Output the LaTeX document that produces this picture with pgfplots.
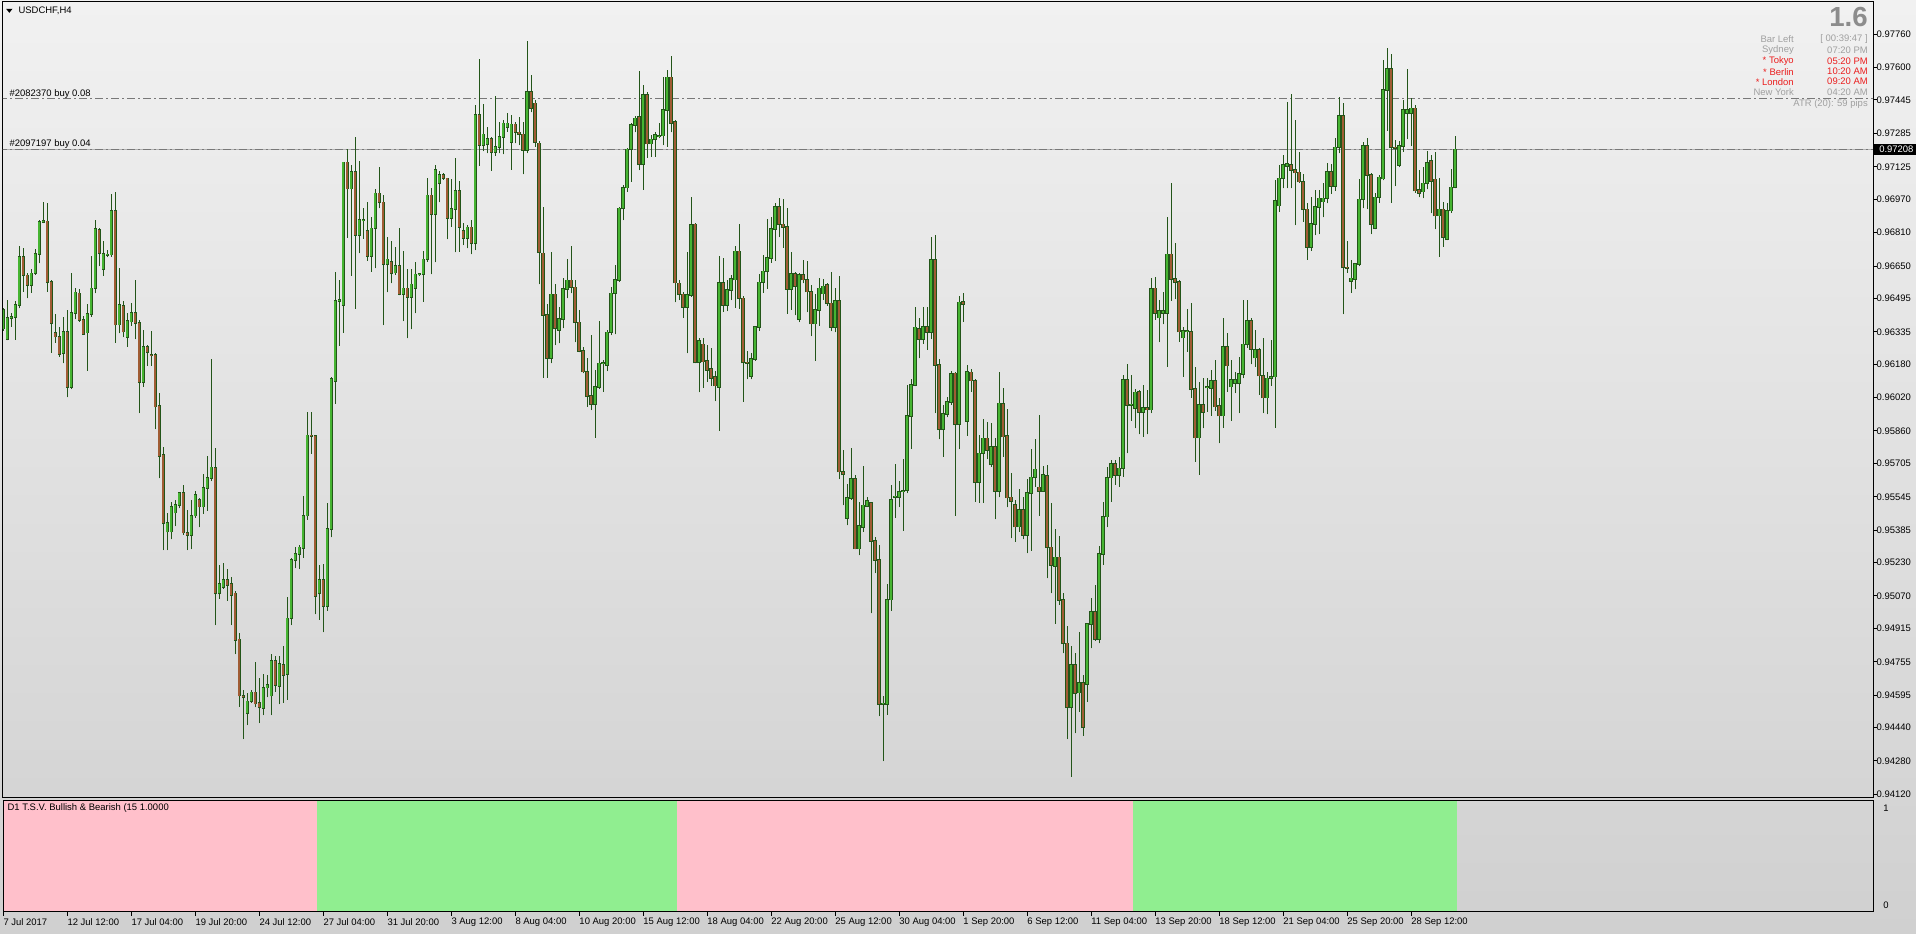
\documentclass[border=0pt]{standalone}
\usepackage{fontspec}
\setmainfont{Liberation Sans}
\usepackage{pgfplots}
\usepackage{pgfplotstable}
\pgfplotsset{compat=1.18}

\definecolor{bullc}{RGB}{70,180,50}
\definecolor{bearc}{RGB}{160,92,52}
\definecolor{edgec}{RGB}{35,85,25}
\definecolor{bgtop}{RGB}{241,241,241}
\definecolor{bgbot}{RGB}{208,208,208}
\definecolor{pinkc}{RGB}{255,192,203}
\definecolor{lgreen}{RGB}{144,238,144}
\definecolor{infogray}{RGB}{160,160,160}
\definecolor{infored}{RGB}{235,30,30}
\definecolor{ordline}{RGB}{120,120,120}
\newcommand\tk{\fontsize{7.1pt}{8.5pt}\selectfont}
\pgfplotsset{nomark/.style={only marks, mark=*, mark size=0pt, mark options={draw=none, fill=none}}}

% H4 bars: i open high low close
\pgfplotstableread{
i O H L C
0 0.96350 0.96450 0.96340 0.96440
1 0.96299 0.96487 0.96295 0.96400
2 0.96400 0.96427 0.96360 0.96405
3 0.96404 0.96484 0.96296 0.96463
4 0.96463 0.96746 0.96447 0.96692
5 0.96692 0.96735 0.96527 0.96605
6 0.96605 0.96615 0.96495 0.96558
7 0.96558 0.96634 0.96522 0.96615
8 0.96615 0.96730 0.96607 0.96708
9 0.96708 0.96870 0.96663 0.96861
10 0.96860 0.96957 0.96855 0.96865
11 0.96864 0.96950 0.96527 0.96572
12 0.96575 0.96583 0.96235 0.96376
13 0.96328 0.96420 0.96283 0.96312
14 0.96312 0.96360 0.96216 0.96227
15 0.96232 0.96408 0.96184 0.96333
16 0.96333 0.96439 0.96021 0.96072
17 0.96072 0.96615 0.96060 0.96424
18 0.96424 0.96543 0.96395 0.96524
19 0.96519 0.96538 0.96384 0.96392
20 0.96392 0.96411 0.96320 0.96325
21 0.96331 0.96468 0.96149 0.96419
22 0.96419 0.96698 0.96408 0.96543
23 0.96543 0.96870 0.96519 0.96826
24 0.96823 0.96831 0.96650 0.96711
25 0.96634 0.96770 0.96604 0.96708
26 0.96704 0.96727 0.96692 0.96706
27 0.96705 0.96995 0.96695 0.96914
28 0.96914 0.97005 0.96283 0.96369
29 0.96369 0.96639 0.96328 0.96463
30 0.96459 0.96484 0.96309 0.96336
31 0.96309 0.96424 0.96264 0.96387
32 0.96384 0.96471 0.96364 0.96424
33 0.96424 0.96583 0.96299 0.96376
34 0.96376 0.96392 0.95945 0.96093
35 0.96093 0.96344 0.96072 0.96264
36 0.96264 0.96272 0.96173 0.96237
37 0.96226 0.96339 0.96173 0.96224
38 0.96224 0.96232 0.95868 0.95977
39 0.95980 0.96040 0.95633 0.95740
40 0.95745 0.95785 0.95290 0.95418
41 0.95378 0.95466 0.95290 0.95418
42 0.95378 0.95522 0.95341 0.95498
43 0.95469 0.95530 0.95405 0.95506
44 0.95506 0.95570 0.95490 0.95562
45 0.95562 0.95601 0.95362 0.95373
46 0.95373 0.95483 0.95290 0.95360
47 0.95360 0.95531 0.95294 0.95455
48 0.95455 0.95574 0.95445 0.95555
49 0.95531 0.95540 0.95398 0.95498
50 0.95498 0.95654 0.95464 0.95587
51 0.95587 0.95739 0.95479 0.95635
52 0.95635 0.96203 0.95620 0.95686
53 0.95682 0.95777 0.94930 0.95082
54 0.95082 0.95218 0.95057 0.95127
55 0.95114 0.95228 0.95105 0.95146
56 0.95146 0.95199 0.95048 0.95123
57 0.95127 0.95161 0.94930 0.95076
58 0.95082 0.95095 0.94792 0.94858
59 0.94862 0.94892 0.94540 0.94593
60 0.94593 0.94622 0.94385 0.94584
61 0.94508 0.94603 0.94451 0.94565
62 0.94565 0.94622 0.94559 0.94608
63 0.94608 0.94754 0.94536 0.94555
64 0.94559 0.94679 0.94461 0.94536
65 0.94533 0.94697 0.94499 0.94631
66 0.94631 0.94692 0.94584 0.94646
67 0.94593 0.94792 0.94499 0.94758
68 0.94758 0.94783 0.94612 0.94644
69 0.94640 0.94783 0.94552 0.94745
70 0.94741 0.94830 0.94559 0.94692
71 0.94697 0.95063 0.94574 0.94963
72 0.94963 0.95252 0.94930 0.95241
73 0.95241 0.95303 0.95203 0.95271
74 0.95271 0.95313 0.95199 0.95303
75 0.95298 0.95549 0.95252 0.95455
76 0.95455 0.95951 0.95436 0.95839
77 0.95839 0.95951 0.95752 0.95837
78 0.95837 0.95843 0.94982 0.95070
79 0.95082 0.95218 0.94957 0.95146
80 0.95146 0.95222 0.94896 0.95020
81 0.95020 0.95517 0.95000 0.95392
82 0.95392 0.96118 0.95351 0.96108
83 0.96099 0.96619 0.95991 0.96483
84 0.96483 0.96585 0.96269 0.96487
85 0.96464 0.97150 0.96331 0.97146
86 0.97146 0.97210 0.96786 0.97021
87 0.97021 0.97134 0.96604 0.97102
88 0.97102 0.97267 0.96445 0.96799
89 0.96799 0.97153 0.96710 0.96869
90 0.96869 0.96930 0.96780 0.96871
91 0.96820 0.96956 0.96676 0.96699
92 0.96699 0.96886 0.96623 0.96830
93 0.96830 0.97019 0.96639 0.96998
94 0.96998 0.97122 0.96926 0.96955
95 0.96955 0.96990 0.96367 0.96658
96 0.96658 0.96790 0.96524 0.96682
97 0.96671 0.96770 0.96567 0.96615
98 0.96618 0.96741 0.96607 0.96650
99 0.96650 0.96833 0.96511 0.96514
100 0.96514 0.96722 0.96386 0.96543
101 0.96543 0.96635 0.96303 0.96503
102 0.96503 0.96635 0.96347 0.96562
103 0.96543 0.96671 0.96423 0.96610
104 0.96610 0.96615 0.96604 0.96612
105 0.96610 0.96722 0.96479 0.96682
106 0.96682 0.97070 0.96671 0.96988
107 0.96988 0.97022 0.96610 0.96897
108 0.96897 0.97133 0.96667 0.97110
109 0.97046 0.97105 0.96955 0.97086
110 0.97086 0.97094 0.97062 0.97070
111 0.97070 0.97073 0.96778 0.96878
112 0.96878 0.97066 0.96838 0.96923
113 0.96923 0.97165 0.96715 0.97009
114 0.97009 0.97057 0.96719 0.96838
115 0.96817 0.96857 0.96750 0.96782
116 0.96782 0.96846 0.96734 0.96835
117 0.96835 0.96870 0.96706 0.96758
118 0.96758 0.97421 0.96726 0.97373
119 0.97373 0.97641 0.97130 0.97229
120 0.97229 0.97424 0.97200 0.97280
121 0.97232 0.97317 0.97189 0.97258
122 0.97258 0.97269 0.97105 0.97194
123 0.97194 0.97464 0.97178 0.97221
124 0.97221 0.97341 0.97189 0.97269
125 0.97269 0.97349 0.97185 0.97333
126 0.97317 0.97381 0.97293 0.97333
127 0.97242 0.97373 0.97110 0.97328
128 0.97328 0.97341 0.97237 0.97290
129 0.97290 0.97365 0.97229 0.97280
130 0.97280 0.97338 0.97089 0.97205
131 0.97205 0.97727 0.97190 0.97485
132 0.97485 0.97564 0.97386 0.97405
133 0.97429 0.97445 0.97221 0.97242
134 0.97237 0.97248 0.96562 0.96715
135 0.96710 0.96934 0.96115 0.96415
136 0.96415 0.96466 0.96115 0.96208
137 0.96208 0.96718 0.96184 0.96514
138 0.96514 0.96562 0.96271 0.96351
139 0.96343 0.96455 0.96280 0.96396
140 0.96396 0.96591 0.96351 0.96540
141 0.96540 0.96683 0.96495 0.96581
142 0.96581 0.96745 0.96519 0.96548
143 0.96548 0.96583 0.96284 0.96380
144 0.96380 0.96439 0.96236 0.96243
145 0.96243 0.96264 0.96136 0.96144
146 0.96144 0.96208 0.95976 0.96027
147 0.96027 0.96319 0.95960 0.95987
148 0.95987 0.96152 0.95828 0.96072
149 0.96072 0.96386 0.96061 0.96184
150 0.96184 0.96200 0.96048 0.96186
151 0.96176 0.96343 0.96147 0.96332
152 0.96332 0.96551 0.96319 0.96519
153 0.96519 0.96655 0.96323 0.96583
154 0.96583 0.96934 0.96575 0.96926
155 0.96926 0.97038 0.96870 0.97025
156 0.97025 0.97213 0.97006 0.97208
157 0.97208 0.97333 0.97054 0.97325
158 0.97325 0.97370 0.97290 0.97357
159 0.97365 0.97583 0.97109 0.97137
160 0.97137 0.97516 0.97014 0.97469
161 0.97469 0.97485 0.97168 0.97236
162 0.97236 0.97277 0.97173 0.97256
163 0.97256 0.97290 0.97173 0.97277
164 0.97273 0.97333 0.97261 0.97274
165 0.97274 0.97553 0.97229 0.97397
166 0.97397 0.97588 0.97221 0.97553
167 0.97553 0.97657 0.97290 0.97333
168 0.97341 0.97349 0.96476 0.96571
169 0.96567 0.96583 0.96487 0.96514
170 0.96514 0.96527 0.96402 0.96455
171 0.96455 0.96718 0.96232 0.96511
172 0.96511 0.96982 0.96503 0.96846
173 0.96849 0.96854 0.96184 0.96188
174 0.96188 0.96307 0.96045 0.96291
175 0.96275 0.96303 0.96067 0.96192
176 0.96195 0.96271 0.96096 0.96152
177 0.96157 0.96255 0.96077 0.96115
178 0.96120 0.96147 0.96003 0.96077
179 0.96072 0.96699 0.95860 0.96571
180 0.96571 0.96686 0.96431 0.96463
181 0.96463 0.96583 0.96434 0.96535
182 0.96535 0.96607 0.96487 0.96587
183 0.96585 0.96747 0.96449 0.96720
184 0.96720 0.96849 0.96446 0.96495
185 0.96495 0.96507 0.95999 0.96188
186 0.96188 0.96242 0.96107 0.96186
187 0.96122 0.96233 0.96107 0.96206
188 0.96206 0.96363 0.96197 0.96359
189 0.96359 0.96612 0.96341 0.96572
190 0.96572 0.96702 0.96522 0.96624
191 0.96624 0.96873 0.96540 0.96689
192 0.96689 0.96885 0.96666 0.96828
193 0.96828 0.96954 0.96675 0.96932
194 0.96932 0.96976 0.96788 0.96849
195 0.96849 0.96972 0.96738 0.96837
196 0.96837 0.96927 0.96422 0.96540
197 0.96540 0.96716 0.96440 0.96612
198 0.96612 0.96621 0.96414 0.96552
199 0.96395 0.96615 0.96381 0.96606
200 0.96606 0.96680 0.96567 0.96585
201 0.96585 0.96675 0.96428 0.96527
202 0.96527 0.96558 0.96314 0.96374
203 0.96374 0.96518 0.96197 0.96440
204 0.96440 0.96594 0.96363 0.96543
205 0.96518 0.96590 0.96489 0.96552
206 0.96558 0.96567 0.96459 0.96471
207 0.96471 0.96621 0.96338 0.96359
208 0.96359 0.96543 0.96332 0.96482
209 0.96482 0.96603 0.95630 0.95666
210 0.95666 0.95769 0.95504 0.95653
211 0.95444 0.95606 0.95408 0.95540
212 0.95540 0.95779 0.95531 0.95630
213 0.95630 0.95648 0.95293 0.95297
214 0.95297 0.95522 0.95264 0.95405
215 0.95401 0.95693 0.95378 0.95504
216 0.95502 0.95545 0.95495 0.95527
217 0.95516 0.95522 0.94987 0.95333
218 0.95333 0.95351 0.95179 0.95242
219 0.95242 0.95315 0.94495 0.94554
220 0.94554 0.94590 0.94279 0.94556
221 0.94554 0.95125 0.94500 0.95053
222 0.95053 0.95599 0.94999 0.95531
223 0.95545 0.95702 0.95444 0.95547
224 0.95545 0.95621 0.95495 0.95570
225 0.95572 0.95725 0.95383 0.95574
226 0.95576 0.96080 0.95563 0.95931
227 0.95931 0.96111 0.95774 0.96080
228 0.96080 0.96453 0.96075 0.96356
229 0.96350 0.96400 0.96208 0.96299
230 0.96299 0.96452 0.96277 0.96360
231 0.96360 0.96452 0.96248 0.96333
232 0.96333 0.96790 0.96300 0.96680
233 0.96680 0.96800 0.95945 0.96176
234 0.96176 0.96203 0.95820 0.95868
235 0.95868 0.95985 0.95737 0.95941
236 0.95941 0.96024 0.95925 0.96000
237 0.96000 0.96149 0.95985 0.96133
238 0.96136 0.96144 0.95455 0.95892
239 0.95892 0.96506 0.95772 0.96476
240 0.96479 0.96522 0.96384 0.96467
241 0.95909 0.96176 0.95838 0.96144
242 0.96141 0.96157 0.96048 0.96101
243 0.96101 0.96107 0.95522 0.95614
244 0.95614 0.95841 0.95517 0.95753
245 0.95753 0.95917 0.95517 0.95825
246 0.95825 0.95905 0.95724 0.95769
247 0.95700 0.95897 0.95689 0.95782
248 0.95782 0.95825 0.95437 0.95574
249 0.95574 0.96144 0.95542 0.95992
250 0.95989 0.96064 0.95737 0.95833
251 0.95836 0.95964 0.95494 0.95541
252 0.95542 0.95657 0.95346 0.95526
253 0.95506 0.95530 0.95330 0.95402
254 0.95402 0.95581 0.95378 0.95482
255 0.95482 0.95546 0.95341 0.95362
256 0.95362 0.95629 0.95274 0.95562
257 0.95562 0.95772 0.95287 0.95638
258 0.95638 0.95820 0.95593 0.95676
259 0.95590 0.95937 0.95453 0.95574
260 0.95574 0.95692 0.95570 0.95649
261 0.95645 0.95697 0.95154 0.95303
262 0.95303 0.95514 0.95083 0.95218
263 0.95214 0.95389 0.94936 0.95255
264 0.95255 0.95357 0.95027 0.95051
265 0.95051 0.95086 0.94795 0.94843
266 0.94843 0.94926 0.94384 0.94537
267 0.94537 0.94830 0.94205 0.94739
268 0.94739 0.94795 0.94412 0.94604
269 0.94607 0.94899 0.94516 0.94655
270 0.94655 0.94692 0.94400 0.94441
271 0.94649 0.94939 0.94564 0.94936
272 0.94936 0.95059 0.94819 0.94995
273 0.94995 0.95123 0.94856 0.94862
274 0.94862 0.95309 0.94843 0.95271
275 0.95271 0.95520 0.95220 0.95450
276 0.95450 0.95689 0.95400 0.95637
277 0.95637 0.95720 0.95520 0.95701
278 0.95701 0.95721 0.95602 0.95649
279 0.95649 0.95737 0.95594 0.95681
280 0.95681 0.96128 0.95641 0.96104
281 0.96104 0.96179 0.95753 0.95985
282 0.95985 0.96128 0.95908 0.95987
283 0.95969 0.96061 0.95873 0.96045
284 0.96049 0.96057 0.95844 0.95949
285 0.95949 0.96080 0.95833 0.95969
286 0.95969 0.96057 0.95844 0.95962
287 0.95962 0.96591 0.95945 0.96540
288 0.96543 0.96599 0.96392 0.96424
289 0.96403 0.96488 0.96285 0.96435
290 0.96424 0.96527 0.96371 0.96435
291 0.96424 0.96887 0.96168 0.96706
292 0.96706 0.97046 0.96483 0.96587
293 0.96587 0.96759 0.96492 0.96572
294 0.96575 0.96583 0.96288 0.96336
295 0.96307 0.96360 0.96120 0.96339
296 0.96336 0.96444 0.96240 0.96338
297 0.96336 0.96472 0.96020 0.96060
298 0.96060 0.96168 0.95713 0.95828
299 0.95828 0.96093 0.95650 0.95985
300 0.95985 0.96112 0.95873 0.95949
301 0.96068 0.96112 0.95953 0.96070
302 0.96064 0.96152 0.95934 0.96100
303 0.96100 0.96200 0.95956 0.95977
304 0.95982 0.96020 0.95801 0.95934
305 0.95934 0.96403 0.95876 0.96264
306 0.96264 0.96328 0.96049 0.96173
307 0.96073 0.96200 0.95908 0.96104
308 0.96089 0.96144 0.96041 0.96104
309 0.96089 0.96216 0.95945 0.96132
310 0.96132 0.96488 0.96112 0.96275
311 0.96275 0.96488 0.96259 0.96387
312 0.96387 0.96403 0.96179 0.96253
313 0.96211 0.96344 0.96168 0.96248
314 0.96248 0.96259 0.96033 0.96125
315 0.96125 0.96307 0.95945 0.96020
316 0.96020 0.96144 0.95940 0.96112
317 0.96112 0.96296 0.96077 0.96120
318 0.96120 0.97060 0.95876 0.96962
319 0.96939 0.97134 0.96910 0.97070
320 0.97070 0.97181 0.97022 0.97133
321 0.97129 0.97437 0.97022 0.97138
322 0.97134 0.97473 0.97022 0.97109
323 0.97109 0.97349 0.96846 0.97097
324 0.97098 0.97197 0.97049 0.97054
325 0.97054 0.97090 0.96862 0.96921
326 0.96921 0.96950 0.96679 0.96742
327 0.96742 0.96982 0.96723 0.96851
328 0.96851 0.97014 0.96798 0.96934
329 0.96931 0.97014 0.96803 0.96974
330 0.96958 0.97049 0.96883 0.96974
331 0.96974 0.97141 0.96950 0.97101
332 0.97101 0.97138 0.96995 0.97034
333 0.97034 0.97261 0.97011 0.97218
334 0.97218 0.97457 0.97189 0.97368
335 0.97368 0.97429 0.96420 0.96643
336 0.96643 0.96771 0.96618 0.96639
337 0.96579 0.96679 0.96522 0.96591
338 0.96586 0.96666 0.96538 0.96659
339 0.96659 0.97065 0.96650 0.96969
340 0.96969 0.97245 0.96926 0.97224
341 0.97224 0.97261 0.96921 0.97085
342 0.97085 0.97097 0.96803 0.96851
343 0.96830 0.97001 0.96825 0.96979
344 0.96979 0.97085 0.96953 0.97074
345 0.97069 0.97636 0.97060 0.97493
346 0.97493 0.97692 0.97298 0.97592
347 0.97592 0.97665 0.96953 0.97218
348 0.97218 0.97253 0.97033 0.97216
349 0.97133 0.97250 0.97124 0.97224
350 0.97224 0.97445 0.97197 0.97397
351 0.97381 0.97592 0.97256 0.97397
352 0.97381 0.97453 0.97224 0.97405
353 0.97405 0.97421 0.97001 0.97011
354 0.97014 0.97109 0.96979 0.97001
355 0.97006 0.97122 0.96974 0.97046
356 0.97046 0.97202 0.97017 0.97145
357 0.97154 0.97181 0.96902 0.97058
358 0.97065 0.97197 0.96825 0.96891
359 0.96891 0.97070 0.96694 0.96921
360 0.96921 0.96958 0.96742 0.96787
361 0.96777 0.96953 0.96774 0.96915
362 0.96915 0.97113 0.96905 0.97026
363 0.97026 0.97272 0.97022 0.97208
}\candles

\begin{document}
\begin{tikzpicture}
\useasboundingbox (0,0) rectangle (1437pt,-699.75pt);
\shade[top color=bgtop, bottom color=bgbot] (0,0) rectangle (1437pt,-699.75pt);

% price window
\begin{axis}[
  at={(2.25pt,-0.75pt)}, anchor=north west,
  scale only axis, width=1402.5pt, height=597pt,
  xmin=-0.075, xmax=467.5, ymin=0.9410727, ymax=0.9791898,
  axis line style={draw=black, line width=0.75pt},
  xtick=\empty,
  ytick={0.94120,0.94280,0.94440,0.94595,0.94755,0.94915,0.95070,0.95230,0.95385,0.95545,0.95705,0.95860,0.96020,0.96180,0.96335,0.96495,0.96650,0.96810,0.96970,0.97125,0.97285,0.97445,0.97600,0.97760},
  yticklabels={0.94120,0.94280,0.94440,0.94595,0.94755,0.94915,0.95070,0.95230,0.95385,0.95545,0.95705,0.95860,0.96020,0.96180,0.96335,0.96495,0.96650,0.96810,0.96970,0.97125,0.97285,0.97445,0.97600,0.97760},
  ytick pos=right, yticklabel pos=right,
  tick align=outside, major tick length=3pt,
  tick style={black, line width=0.75pt},
  yticklabel style={font=\tk, inner sep=0pt, anchor=west, xshift=-0.5pt},
]
% order lines and bid line
\addplot[gray!60, line width=0.75pt] coordinates {(-1,0.97208) (470,0.97208)};
\addplot[ordline, line width=0.75pt, dash pattern=on 6pt off 2.25pt on 1.5pt off 2.25pt] coordinates {(-1,0.97450) (470,0.97450)};
\addplot[ordline, line width=0.75pt, dash pattern=on 6pt off 2.25pt on 1.5pt off 2.25pt] coordinates {(-1,0.97210) (470,0.97210)};
% wicks
\addplot[nomark, color=edgec,
  error bars/.cd, y dir=plus, y explicit, error mark=none,
  error bar style={draw=edgec, line width=0.75pt}]
  table[x=i, y=L, y error expr=\thisrow{H}-\thisrow{L}] {\candles};
% body outlines
\addplot[nomark, color=edgec,
  error bars/.cd, y dir=plus, y explicit, error mark=none,
  error bar style={draw=edgec, line width=2.6pt}]
  table[x=i, y expr={min(\thisrow{O},\thisrow{C})-0.000038},
        y error expr={abs(\thisrow{C}-\thisrow{O})+0.000076}] {\candles};
% bullish bodies
\addplot[nomark, color=bullc,
  restrict expr to domain={\thisrow{C}-\thisrow{O}}{0:1},
  error bars/.cd, y dir=plus, y explicit, error mark=none,
  error bar style={draw=bullc, line width=1.4pt}]
  table[x=i, y=O, y error expr=\thisrow{C}-\thisrow{O}] {\candles};
% bearish bodies
\addplot[nomark, color=bearc,
  restrict expr to domain={\thisrow{O}-\thisrow{C}}{0.0000001:1},
  error bars/.cd, y dir=plus, y explicit, error mark=none,
  error bar style={draw=bearc, line width=1.4pt}]
  table[x=i, y=C, y error expr=\thisrow{O}-\thisrow{C}] {\candles};
\end{axis}

% indicator window
\begin{axis}[
  at={(2.25pt,-600pt)}, anchor=north west,
  scale only axis, width=1402.5pt, height=83.8pt,
  xmin=-0.075, xmax=467.5, ymin=-0.0636, ymax=1.0821,
  axis line style={draw=black, line width=0.75pt},
  xtick={0,16,...,352},
  xticklabels={7 Jul 2017,12 Jul 12:00,17 Jul 04:00,19 Jul 20:00,24 Jul 12:00,27 Jul 04:00,31 Jul 20:00,3 Aug 12:00,8 Aug 04:00,10 Aug 20:00,15 Aug 12:00,18 Aug 04:00,22 Aug 20:00,25 Aug 12:00,30 Aug 04:00,1 Sep 20:00,6 Sep 12:00,11 Sep 04:00,13 Sep 20:00,18 Sep 12:00,21 Sep 04:00,25 Sep 20:00,28 Sep 12:00},
  xtick pos=bottom, tick align=outside, major tick length=3pt,
  tick style={black, line width=0.75pt},
  xticklabel style={font=\tk, inner sep=0pt, anchor=west, yshift=-4.5pt},
  ytick={0,1}, yticklabels={0,1},
  ytick pos=right, yticklabel pos=right,
  ytick style={draw=none},
  yticklabel style={font=\tk, inner sep=0pt, anchor=west, xshift=4.5pt},
]
\addplot[fill=pinkc, draw=none] coordinates {(-0.5,-0.2) (78.5,-0.2) (78.5,1.2) (-0.5,1.2)} -- cycle;
\addplot[fill=lgreen, draw=none] coordinates {(78.5,-0.2) (168.5,-0.2) (168.5,1.2) (78.5,1.2)} -- cycle;
\addplot[fill=pinkc, draw=none] coordinates {(168.5,-0.2) (282.5,-0.2) (282.5,1.2) (168.5,1.2)} -- cycle;
\addplot[fill=lgreen, draw=none] coordinates {(282.5,-0.2) (363.5,-0.2) (363.5,1.2) (282.5,1.2)} -- cycle;
\end{axis}
\draw[black, line width=0.75pt] (2.25pt,-600pt) rectangle (1404.75pt,-683.8pt);

% texts
\fill[black] (4.6pt,-6.6pt) -- (9.4pt,-6.6pt) -- (7pt,-9.6pt) -- cycle;
\node[anchor=west, inner sep=0pt, font=\tk] at (13.7pt,-8.25pt) {USDCHF,H4};
\node[anchor=west, inner sep=0pt, font=\tk] at (7pt,-70.5pt) {\#2082370 buy 0.08};
\node[anchor=west, inner sep=0pt, font=\tk] at (7pt,-108pt) {\#2097197 buy 0.04};
\node[anchor=west, inner sep=0pt, font=\tk] at (5.5pt,-606.2pt) {D1 T.S.V. Bullish \& Bearish (15 1.0000};

\node[anchor=east, inner sep=0pt, text=gray!90, font=\fontsize{20.7pt}{22pt}\selectfont\bfseries] at (1401pt,-13pt) {1.6};
\begin{scope}[every node/.style={inner sep=0pt, font=\tk}]
\node[anchor=east, text=infogray] at (1345.5pt,-29pt) {Bar Left};
\node[anchor=east, text=infogray] at (1401pt,-29pt) {[ 00:39:47 ]};
\node[anchor=east, text=infogray] at (1345.5pt,-37.5pt) {Sydney};
\node[anchor=east, text=infogray] at (1401pt,-37.5pt) {07:20 PM};
\node[anchor=east, text=infored] at (1345.5pt,-45.75pt) {* Tokyo};
\node[anchor=east, text=infored] at (1401pt,-45.75pt) {05:20 PM};
\node[anchor=east, text=infored] at (1345.5pt,-53.8pt) {* Berlin};
\node[anchor=east, text=infored] at (1401pt,-53.8pt) {10:20 AM};
\node[anchor=east, text=infored] at (1345.5pt,-61.3pt) {* London};
\node[anchor=east, text=infored] at (1401pt,-61.3pt) {09:20 AM};
\node[anchor=east, text=infogray] at (1345.5pt,-69.2pt) {New York};
\node[anchor=east, text=infogray] at (1401pt,-69.2pt) {04:20 AM};
\node[anchor=east, text=infogray] at (1401pt,-78.2pt) {ATR (20): 59 pips};
\end{scope}

% current price box
\fill[black] (1404.75pt,-108pt) rectangle (1437pt,-116.25pt);
\node[anchor=west, inner sep=0pt, text=white, font=\tk] at (1409.25pt,-112.1pt) {0.97208};
\end{tikzpicture}
\end{document}
